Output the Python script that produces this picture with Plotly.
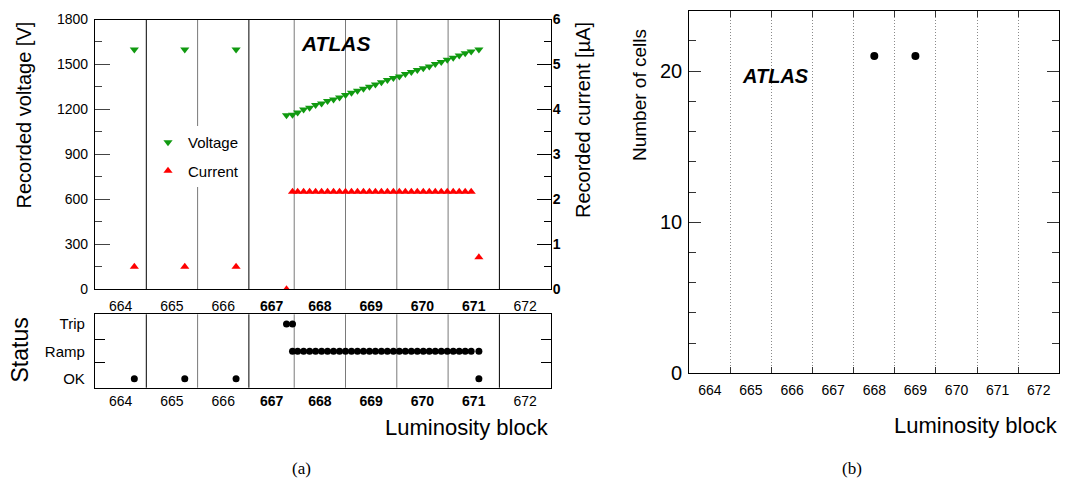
import plotly.graph_objects as go

# luminosity blocks, x axis of panel (a) is time in seconds from start of LB 664
lb_numbers = [664, 665, 666, 667, 668, 669, 670, 671, 672]
lb_edges_s = [0, 60, 120, 180, 233, 293, 353, 413, 473, 533]
lb_bold = [667, 668, 669, 670, 671]

# recorded HV values
time_s = [46, 105, 165,
          224, 231, 237, 244, 251, 258, 265, 272, 279, 286,
          293, 300, 307, 314, 321, 328, 335, 342, 349, 356,
          363, 370, 377, 384, 391, 398, 405, 412, 419, 426,
          433, 440, 449]
voltage_v = [1600, 1600, 1600,
             1162, 1165, 1180, 1200, 1211, 1229, 1240, 1256, 1267, 1280,
             1296, 1311, 1325, 1338, 1351, 1367, 1381, 1396, 1409, 1420,
             1436, 1450, 1463, 1474, 1487, 1503, 1516, 1532, 1545, 1560,
             1574, 1586, 1600]
current_ua = [0.5, 0.5, 0.5,
              0.0, 2.17, 2.17, 2.17, 2.17, 2.17, 2.17, 2.17, 2.17, 2.17,
              2.17, 2.17, 2.17, 2.17, 2.17, 2.17, 2.17, 2.17, 2.17, 2.17,
              2.17, 2.17, 2.17, 2.17, 2.17, 2.17, 2.17, 2.17, 2.17, 2.17,
              2.17, 2.17, 0.71]

# HV status
status_levels = ["OK", "Ramp", "Trip"]
status = ["OK", "OK", "OK",
          "Trip", "Trip", "Ramp", "Ramp", "Ramp", "Ramp", "Ramp", "Ramp", "Ramp", "Ramp",
          "Ramp", "Ramp", "Ramp", "Ramp", "Ramp", "Ramp", "Ramp", "Ramp", "Ramp", "Ramp",
          "Ramp", "Ramp", "Ramp", "Ramp", "Ramp", "Ramp", "Ramp", "Ramp", "Ramp", "Ramp",
          "Ramp", "Ramp", "Ramp"]
status_extra_time = [231, 449]
status_extra = ["Ramp", "OK"]

# panel (b): number of affected cells per LB
cells_lb = [668, 669]
cells_n = [21, 21]

FONT = "Liberation Sans, Arial, sans-serif"
OFF = 8  # page body margin, the figure sits 8px in from the top-left corner
W, H = 1069 - 2 * OFF, 483 - OFF
RIGHT = 1060  # last visible page column

lb_centers = [(a + b) / 2 for a, b in zip(lb_edges_s[:-1], lb_edges_s[1:])]
lb_text = ["<b>%d</b>" % n if n in lb_bold else str(n) for n in lb_numbers]
edge_colors = ["black", "#7a7a7a", "black", "#7a7a7a", "#7a7a7a", "#7a7a7a", "#7a7a7a", "black"]

fig = go.Figure()

fig.add_trace(go.Scatter(
    x=time_s, y=voltage_v, mode="markers", name="Voltage",
    marker=dict(symbol="triangle-down", size=8, color="#109a10"),
    xaxis="x", yaxis="y", legendgroup="v",
))
fig.add_trace(go.Scatter(
    x=time_s, y=current_ua, mode="markers", name="Current",
    marker=dict(symbol="triangle-up", size=8, color="#ff0000"),
    xaxis="x", yaxis="y2", legendgroup="c",
))

st_x = time_s + status_extra_time
st_y = [status_levels.index(s) for s in status + status_extra]
fig.add_trace(go.Scatter(
    x=st_x, y=st_y, mode="markers", showlegend=False,
    marker=dict(symbol="circle", size=7, color="black"),
    xaxis="x2", yaxis="y3",
))

fig.add_trace(go.Scatter(
    x=cells_lb, y=cells_n, mode="markers", showlegend=False,
    marker=dict(symbol="circle", size=8, color="black"),
    xaxis="x3", yaxis="y4",
))

# block boundaries
shapes = []
for e, c in zip(lb_edges_s[1:-1], edge_colors):
    for xr, yr in [("x", "y domain"), ("x2", "y3 domain")]:
        shapes.append(dict(type="line", xref=xr, yref=yr, x0=e, x1=e, y0=0, y1=1,
                           line=dict(color=c, width=1), layer="below"))

frame = dict(showline=True, linecolor="black", linewidth=1.3, mirror=True,
             showgrid=False, zeroline=False, automargin=False)

# positions are given in page pixels
def px_x(v):
    return (v - OFF) / W

def px_y(v):
    return 1 - (v - OFF) / H

fig.update_layout(
    width=W, height=H,
    margin=dict(l=0, r=0, t=0, b=0, pad=0),
    paper_bgcolor="white", plot_bgcolor="white",
    font=dict(family=FONT, color="black", size=14),
    shapes=shapes,
    xaxis=dict(frame, domain=[px_x(95), px_x(550.7)], anchor="y",
               range=[lb_edges_s[0], lb_edges_s[-1]],
               tickmode="array", tickvals=lb_centers, ticktext=lb_text,
               ticks="", tickfont=dict(size=14), ticklabelstandoff=4),
    yaxis=dict(frame, domain=[px_y(289.3), px_y(19.5)], anchor="x",
               range=[0, 1800], tickmode="linear", tick0=0, dtick=300,
               ticks="inside", ticklen=15, tickcolor="#444", tickwidth=1,
               minor=dict(dtick=150, ticks="inside", ticklen=7, tickcolor="#444"),
               tickfont=dict(size=14), ticklabelstandoff=3),
    yaxis2=dict(overlaying="y", side="right", anchor="x", automargin=False,
                range=[0, 6], tickmode="linear", tick0=0, dtick=1,
                showgrid=False, zeroline=False, showline=False,
                ticks="inside", ticklen=14, tickcolor="black", tickwidth=1,
                minor=dict(dtick=0.5, ticks="inside", ticklen=7, tickcolor="black"),
                tickfont=dict(size=14, weight="bold"), ticklabelstandoff=1),
    xaxis2=dict(frame, domain=[px_x(95), px_x(550.7)], anchor="y3",
                range=[lb_edges_s[0], lb_edges_s[-1]],
                tickmode="array", tickvals=lb_centers, ticktext=lb_text,
                ticks="", tickfont=dict(size=14), ticklabelstandoff=0),
    yaxis3=dict(frame, domain=[px_y(387.7), px_y(314.3)], anchor="x2",
                range=[-0.33, 2.355], mirror="allticks",
                tickmode="array", tickvals=[0, 1, 2], ticktext=status_levels,
                ticks="", tickfont=dict(size=15), ticklabelstandoff=6,
                minor=dict(tickmode="array", tickvals=[0.58, 1.45], ticks="inside",
                           ticklen=10, tickcolor="black")),
    xaxis3=dict(frame, domain=[px_x(689.3), px_x(RIGHT - 0.7)], anchor="y4",
                range=[lb_numbers[0] - 0.5, lb_numbers[-1] + 0.5], mirror="allticks",
                tickmode="array", tickvals=lb_numbers, ticks="",
                tickfont=dict(size=14), ticklabelstandoff=4,
                minor=dict(tickmode="array", tickvals=[n + 0.5 for n in lb_numbers[:-1]],
                           ticks="inside", ticklen=6, tickcolor="#333",
                           showgrid=True, gridcolor="#8a8a8a", griddash="1px,2px", gridwidth=1)),
    yaxis4=dict(frame, domain=[px_y(373.3), px_y(10.7)], anchor="x3",
                range=[0, 24], mirror="allticks", tickmode="linear", tick0=0, dtick=10,
                ticks="inside", ticklen=12, tickcolor="#333",
                minor=dict(dtick=2, ticks="inside", ticklen=7, tickcolor="#333"),
                tickfont=dict(size=20), ticklabelstandoff=2),
    legend=dict(x=px_x(148), y=px_y(126), xanchor="left", yanchor="top",
                bgcolor="white", borderwidth=0, font=dict(size=15),
                itemwidth=30, tracegroupgap=6, traceorder="grouped"),
)

ann = [
    dict(text="Recorded voltage [V]", x=px_x(23), y=px_y(20), textangle=-90,
         xanchor="center", yanchor="top", font=dict(size=20)),
    dict(text="Recorded current [µA]", x=px_x(583), y=px_y(20), textangle=-90,
         xanchor="center", yanchor="top", font=dict(size=20)),
    dict(text="Status", x=px_x(19), y=px_y(316), textangle=-90,
         xanchor="center", yanchor="top", font=dict(size=23)),
    dict(text="Luminosity block", x=px_x(551), y=px_y(427),
         xanchor="right", yanchor="middle", font=dict(size=22)),
    dict(text="<b><i>ATLAS</i></b>", x=px_x(299), y=px_y(43),
         xanchor="left", yanchor="middle", font=dict(size=21)),
    dict(text="Number of cells", x=px_x(639), y=px_y(27), textangle=-90,
         xanchor="center", yanchor="top", font=dict(size=19)),
    dict(text="Luminosity block", x=px_x(RIGHT), y=px_y(425),
         xanchor="right", yanchor="middle", font=dict(size=22)),
    dict(text="<b><i>ATLAS</i></b>", x=px_x(740), y=px_y(76),
         xanchor="left", yanchor="middle", font=dict(size=20)),
    dict(text="(a)", x=px_x(301), y=px_y(468), xanchor="center", yanchor="middle",
         font=dict(size=17, family="Liberation Serif, Times New Roman, serif")),
    dict(text="(b)", x=px_x(852), y=px_y(468), xanchor="center", yanchor="middle",
         font=dict(size=17, family="Liberation Serif, Times New Roman, serif")),
]
for a in ann:
    a.update(xref="paper", yref="paper", showarrow=False)
fig.update_layout(annotations=ann)

fig.write_html("out.html")
